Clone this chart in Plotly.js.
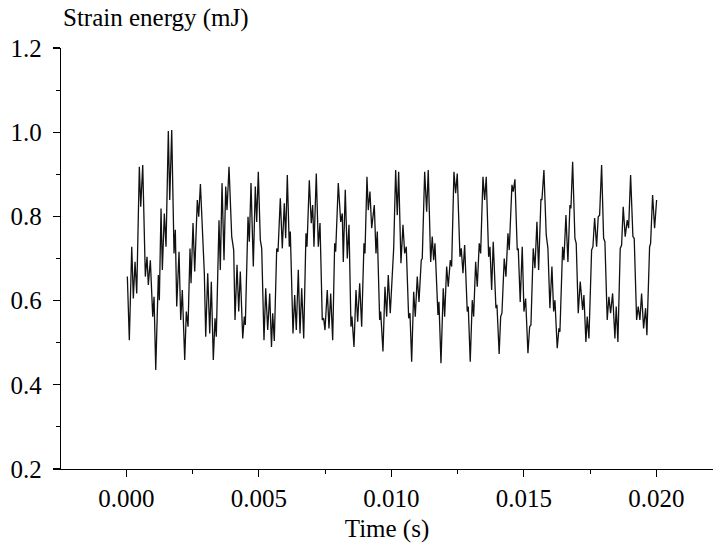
<!DOCTYPE html>
<html>
<head>
<meta charset="utf-8">
<script src="https://cdn.plot.ly/plotly-3.0.1.min.js"></script>
<style>html,body{margin:0;padding:0;background:#fff;}#chart{width:713px;height:551px;}</style>
</head>
<body>
<div id="chart"></div>
<script>
// Time in milliseconds (converted to seconds below)
const timeMs = [
0.034,0.109,0.200,0.260,0.325,0.389,0.487,0.540,0.615,0.713,0.777,0.826,0.902,0.992,1.042,1.106,1.204,1.242,1.306,1.355,
1.430,1.494,1.581,1.634,1.709,1.796,1.845,1.898,1.985,2.049,2.109,2.200,2.260,2.325,2.400,2.438,2.513,2.577,2.675,2.728,
2.792,2.902,2.940,2.992,3.068,3.143,3.204,3.279,3.343,3.392,3.494,3.543,3.608,3.683,3.747,3.796,3.872,3.974,4.049,4.098,
4.174,4.238,4.298,4.389,4.449,4.487,4.589,4.638,4.702,4.789,4.864,4.917,4.977,5.053,5.106,5.192,5.257,5.332,5.408,5.475,
5.521,5.581,5.672,5.721,5.808,5.883,5.958,6.011,6.072,6.147,6.185,6.287,6.351,6.411,6.487,6.551,6.615,6.691,6.777,6.815,
6.902,6.977,7.030,7.079,7.166,7.242,7.306,7.392,7.445,7.494,7.581,7.645,7.709,7.785,7.860,7.898,7.996,8.087,8.147,8.185,
8.260,8.336,8.400,8.475,8.513,8.589,8.664,8.728,8.804,8.879,8.966,9.004,9.079,9.128,9.192,9.257,9.355,9.419,9.468,9.558,
9.596,9.683,9.758,9.823,9.883,9.958,10.049,10.087,10.162,10.223,10.275,10.362,10.438,10.502,10.562,10.653,10.702,10.766,10.842,10.902,
10.977,11.042,11.128,11.166,11.257,11.332,11.392,11.483,11.543,11.596,11.645,11.758,11.796,11.872,11.958,12.011,12.087,12.147,12.223,12.275,
12.362,12.426,12.487,12.589,12.638,12.702,12.766,12.864,12.902,12.977,13.053,13.106,13.181,13.242,13.317,13.370,13.457,13.521,13.581,13.672,
13.721,13.785,13.845,13.947,13.985,14.068,14.125,14.174,14.260,14.325,14.400,14.449,14.551,14.600,14.664,14.751,14.789,14.864,14.940,15.004,
15.068,15.155,15.219,15.268,15.355,15.419,15.494,15.558,15.645,15.683,15.758,15.845,15.909,15.985,16.060,16.125,16.174,16.260,16.325,16.362,
16.464,16.513,16.589,16.664,16.740,16.777,16.842,16.928,16.977,17.053,17.128,17.219,17.268,17.343,17.392,17.457,17.558,17.608,17.672,17.747,
17.808,17.860,17.936,18.011,18.060,18.147,18.211,18.275,18.351,18.438,18.487,18.551,18.638,18.691,18.751,18.826,18.902,18.955,19.030,19.117,
19.166,19.257,19.317,19.381,19.445,19.521,19.596,19.645,19.747,19.785,19.860,19.936,20.011
];
// Strain energy in mJ
const strainEnergy = [
0.657,0.506,0.728,0.605,0.692,0.617,0.918,0.823,0.922,0.657,0.704,0.637,0.696,0.562,0.609,0.435,0.661,0.601,0.819,0.673,
0.807,0.728,1.003,0.839,1.005,0.712,0.768,0.586,0.716,0.554,0.625,0.459,0.574,0.538,0.724,0.641,0.784,0.669,0.839,0.799,
0.877,0.712,0.665,0.514,0.665,0.522,0.645,0.459,0.558,0.514,0.791,0.673,0.879,0.696,0.871,0.815,0.918,0.752,0.720,0.554,
0.685,0.574,0.669,0.510,0.562,0.542,0.799,0.740,0.879,0.681,0.871,0.787,0.906,0.744,0.724,0.506,0.629,0.530,0.617,0.490,
0.570,0.504,0.724,0.716,0.843,0.724,0.831,0.748,0.898,0.728,0.764,0.522,0.613,0.530,0.673,0.522,0.629,0.510,0.760,0.728,
0.886,0.784,0.827,0.728,0.902,0.728,0.784,0.554,0.558,0.530,0.625,0.534,0.617,0.506,0.736,0.716,0.879,0.787,0.807,0.692,
0.863,0.700,0.780,0.538,0.562,0.490,0.625,0.550,0.641,0.538,0.736,0.712,0.894,0.815,0.859,0.772,0.827,0.712,0.764,0.554,
0.574,0.479,0.633,0.562,0.661,0.570,0.696,0.724,0.910,0.803,0.906,0.689,0.780,0.712,0.728,0.558,0.570,0.455,0.621,0.562,
0.657,0.597,0.696,0.700,0.906,0.811,0.910,0.692,0.752,0.696,0.736,0.566,0.597,0.451,0.629,0.562,0.681,0.633,0.696,0.681,
0.906,0.855,0.902,0.704,0.724,0.665,0.732,0.574,0.586,0.455,0.601,0.562,0.692,0.633,0.736,0.712,0.894,0.839,0.894,0.704,
0.728,0.625,0.740,0.582,0.590,0.473,0.562,0.570,0.700,0.657,0.760,0.720,0.875,0.859,0.888,0.720,0.724,0.597,0.728,0.574,
0.605,0.475,0.538,0.542,0.724,0.677,0.787,0.673,0.841,0.839,0.910,0.756,0.724,0.582,0.681,0.574,0.601,0.487,0.534,0.526,
0.728,0.696,0.803,0.692,0.827,0.819,0.930,0.748,0.736,0.570,0.645,0.578,0.613,0.502,0.562,0.510,0.720,0.728,0.796,0.728,
0.799,0.803,0.922,0.748,0.740,0.554,0.609,0.570,0.617,0.510,0.586,0.502,0.724,0.732,0.823,0.752,0.791,0.772,0.898,0.752,
0.748,0.554,0.586,0.554,0.617,0.534,0.582,0.518,0.728,0.736,0.851,0.772,0.839
];
const xTickVals = [0, 0.005, 0.010, 0.015, 0.020];
const xTickText = ["0.000", "0.005", "0.010", "0.015", "0.020"];
const yTickVals = [0.2, 0.4, 0.6, 0.8, 1.0, 1.2];
const yTickText = ["0.2", "0.4", "0.6", "0.8", "1.0", "1.2"];

const timeS = timeMs.map(v => v / 1000);
const FONT = "Liberation Serif, Times New Roman, serif";

const trace = {
  x: timeS, y: strainEnergy, type: "scatter", mode: "lines",
  line: {color: "#111", width: 1.3}, hoverinfo: "skip"
};

const layout = {
  width: 713, height: 551,
  margin: {l: 61, r: 0, t: 48, b: 82},
  paper_bgcolor: "#fff", plot_bgcolor: "#fff",
  showlegend: false,
  font: {family: FONT, size: 25, color: "#000"},
  xaxis: {
    range: [-0.00247, 0.02214],
    tickvals: xTickVals, ticktext: xTickText,
    ticks: "outside", ticklen: 7, tickwidth: 1.2, tickcolor: "#000",
    showline: true, linecolor: "#000", linewidth: 1.3,
    showgrid: false, zeroline: false,
    ticklabelstandoff: 0,
    tickfont: {family: FONT, size: 25, color: "#000"},
    minor: {dtick: 0.0025, tick0: 0, ticks: "outside", ticklen: 4, tickwidth: 1, tickcolor: "#000", showgrid: false},
    title: {text: "Time (s)", font: {family: FONT, size: 25, color: "#000"}, standoff: 8}
  },
  yaxis: {
    range: [0.2, 1.2],
    tickvals: yTickVals, ticktext: yTickText,
    ticks: "outside", ticklen: 7, tickwidth: 1.2, tickcolor: "#000",
    showline: true, linecolor: "#000", linewidth: 1.3,
    showgrid: false, zeroline: false,
    ticklabelstandoff: 6,
    tickfont: {family: FONT, size: 25, color: "#000"},
    minor: {dtick: 0.1, tick0: 0.2, ticks: "outside", ticklen: 4, tickwidth: 1, tickcolor: "#000", showgrid: false}
  },
  annotations: [{
    text: "Strain energy (mJ)", xref: "paper", yref: "paper",
    x: 0.0, y: 1.0 + 30/421, xanchor: "left", yanchor: "middle",
    showarrow: false, font: {family: FONT, size: 25, color: "#000"}
  }]
};

Plotly.newPlot("chart", [trace], layout, {staticPlot: true, displayModeBar: false});
</script>
</body>
</html>
